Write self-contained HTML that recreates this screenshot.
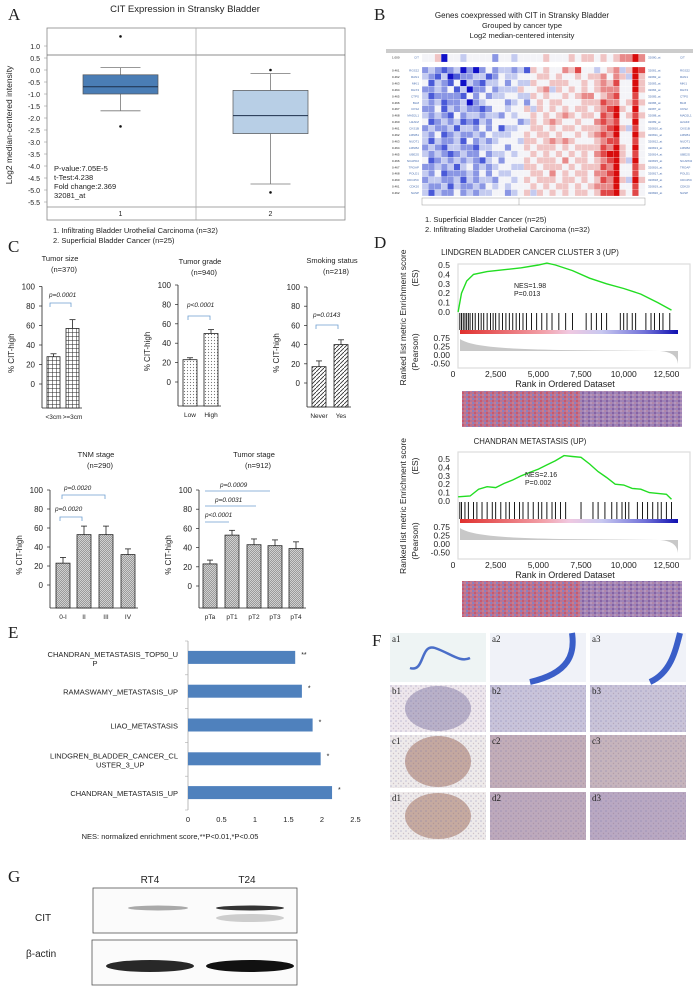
<!DOCTYPE html>
<html><head><meta charset="utf-8"><style>
html,body{margin:0;padding:0;background:#fff;}
svg{display:block;font-family:"Liberation Sans",sans-serif;}
</style></head><body>
<svg id="fig" width="696" height="988" viewBox="0 0 696 988" xmlns="http://www.w3.org/2000/svg">
<defs>
<pattern id="pGrid" width="4" height="4" patternUnits="userSpaceOnUse"><rect width="4" height="4" fill="#fff"/><path d="M0 0H4M0 0V4" stroke="#222" stroke-width="1"/></pattern>
<pattern id="pDots" width="3" height="3" patternUnits="userSpaceOnUse"><rect width="3" height="3" fill="#fff"/><circle cx="1.5" cy="1.5" r="0.6" fill="#777"/></pattern>
<pattern id="pDiag" width="4" height="4" patternUnits="userSpaceOnUse"><rect width="4" height="4" fill="#fff"/><path d="M0 4L4 0" stroke="#333" stroke-width="0.9"/></pattern>
<pattern id="pFine" width="2" height="2" patternUnits="userSpaceOnUse"><rect width="2" height="2" fill="#d8d8d8"/><path d="M0 2L2 0" stroke="#777" stroke-width="0.6"/></pattern>
<pattern id="pNoiseR" width="6" height="4" patternUnits="userSpaceOnUse"><rect width="6" height="4" fill="#b47496"/><rect x="0" y="0" width="2" height="2" fill="#c9586c"/><rect x="4" y="2" width="2" height="2" fill="#8a80c0"/><rect x="2" y="2" width="2" height="2" fill="#d07a88"/></pattern>
<pattern id="pNoiseB" width="6" height="4" patternUnits="userSpaceOnUse"><rect width="6" height="4" fill="#958ac4"/><rect x="0" y="0" width="2" height="2" fill="#6a66bc"/><rect x="4" y="2" width="2" height="2" fill="#c08aa0"/><rect x="2" y="2" width="2" height="2" fill="#aaa2d2"/></pattern>
<pattern id="pSpeck" width="5" height="5" patternUnits="userSpaceOnUse"><circle cx="1" cy="1" r="0.8" fill="#6a6aa8" fill-opacity="0.35"/><circle cx="3.5" cy="3.5" r="0.7" fill="#8a6a7a" fill-opacity="0.3"/></pattern>
<linearGradient id="gRank" x1="0" x2="1"><stop offset="0" stop-color="#e0302e"/><stop offset="0.38" stop-color="#f2a0a8"/><stop offset="0.5" stop-color="#f0c8e0"/><stop offset="0.65" stop-color="#c8c8f0"/><stop offset="0.85" stop-color="#7070d8"/><stop offset="1" stop-color="#1010b0"/></linearGradient>
</defs>
<g id="root"></g>
</svg>
<script>
// ---------- Panel A data ----------
const boxGroups = ["1","2"];
const boxQ1 = [-1.0, -2.65];
const boxQ3 = [-0.2, -0.85];
const boxMedian = [-0.7, -1.9];
const boxWhiskLo = [-1.7, -4.75];
const boxWhiskHi = [0.1, -0.15];
const boxOutHi = [1.4, 0.0];
const boxOutLo = [-2.35, -5.1];
const boxTicks = [1.0,0.5,0.0,-0.5,-1.0,-1.5,-2.0,-2.5,-3.0,-3.5,-4.0,-4.5,-5.0,-5.5];
// ---------- Panel C data ----------
const sizeCats = ["<3cm", ">=3cm"]; const sizeVals = [28, 57]; const sizeErr = [3, 9];
const gradeCats = ["Low", "High"]; const gradeVals = [23, 50]; const gradeErr = [2, 4];
const smokeCats = ["Never", "Yes"]; const smokeVals = [17, 40]; const smokeErr = [6, 5];
const tnmCats = ["0-I", "II", "III", "IV"]; const tnmVals = [23, 53, 53, 32]; const tnmErr = [6, 9, 9, 6];
const stageCats = ["pTa", "pT1", "pT2", "pT3", "pT4"]; const stageVals = [23, 53, 43, 42, 39]; const stageErr = [4, 5, 6, 6, 7];
const pctTicks = [0, 20, 40, 60, 80, 100];
// ---------- Panel E data ----------
const nesCats = [["CHANDRAN_METASTASIS_TOP50_U","P"],["RAMASWAMY_METASTASIS_UP"],["LIAO_METASTASIS"],["LINDGREN_BLADDER_CANCER_CL","USTER_3_UP"],["CHANDRAN_METASTASIS_UP"]];
const nesVals = [1.6, 1.7, 1.86, 1.98, 2.15];
const nesStars = ["**", "*", "*", "*", "*"];
const nesTicks = [0, 0.5, 1, 1.5, 2, 2.5];
// ---------- Panel D data ----------
const es1Ranks = [300,500,800,1200,2000,3000,4000,5000,5500,6000,7000,8000,9000,10000,11000,12000,12800];
const es1Vals = [0,0.2,0.33,0.4,0.43,0.45,0.47,0.5,0.52,0.5,0.44,0.36,0.3,0.25,0.19,0.1,0.02];
const es2Ranks = [300,1000,1500,2000,2500,3000,3500,4000,4500,5000,5500,6000,6500,7000,7500,8000,8500,9000,9500,10000,10500,11000,11500,12000,12500,12800];
const es2Vals = [0.05,0.06,0.14,0.17,0.16,0.21,0.25,0.3,0.34,0.38,0.43,0.48,0.54,0.53,0.52,0.44,0.35,0.28,0.2,0.19,0.15,0.14,0.1,0.09,0.08,0.02];
const hits1 = [400,500,600,700,800,900,1000,1150,1300,1500,1650,1800,2000,2200,2350,2500,2700,2900,3100,3300,3500,3700,3900,4100,4300,4600,4900,5200,5500,5800,6200,6600,7000,7800,8100,8400,8700,9000,9800,10000,10200,10500,10700,11300,11600,11800,12100,12300,12700];
const hits2 = [400,500,700,900,1200,1400,1700,2000,2300,2500,2800,3100,3300,3600,3900,4100,4400,4700,5000,5200,5500,5800,6000,6300,6600,7500,8200,8500,8900,9300,9600,9900,10100,10300,10800,11100,11400,11700,12000,12200,12500,12800];
const esTicks = [0.0,0.1,0.2,0.3,0.4,0.5];
const rankTicks = [0,2500,5000,7500,10000,12500];
const rankTickLabels = ["0","2,500","5,000","7,500","10,000","12,500"];
// ---------- Panel B data ----------
const heatGenes = ["CIT","RGS22","RAN1","MKI1","DHX3","CTPS","BLM","CKS2","MAD2L1","H2AFZ","CKS1B","LMNB1","NUDT1","LMNB2","UBE2S","NCAPD2","TROAP","POLD1","CDC25C","CDK20","NASP"];
const heatRows = [
"44504434444244344445444545545456686",
"23212302024233231545446574434563587",
"32130122331243344455454454556465385",
"41321403213342433544555445456574485",
"22324130224233354456354545456664485",
"31222214242334433545445456645674474",
"32312230234442342454554445557664575",
"22413232212443445354545455456785484",
"32321423323324344545456545547684575",
"41232312132444423545654454467674484",
"23223133242413344554545545556785374",
"32412322324333445455454454567684485",
"31322314232344435545656544456774474",
"23213322133442445455545455557685484",
"32321232242334344545454545467885474",
"41232323213424445455546455456785384",
"22323134232344335545554545557684475",
"32412223242433444554645455466784474",
"23322313233244345455545545457685385",
"32231322324343444545455454566684474",
"31322423233442345354545455457785474"];
// ---------- Panel G data ----------
const wbLanes = ["RT4","T24"];
const wbCIT = [0.35, 0.85];
const wbActin = [0.9, 1.0];

const NS="http://www.w3.org/2000/svg";
const root=document.getElementById('root');
function el(tag,attrs,parent){const e=document.createElementNS(NS,tag);for(const k in attrs)e.setAttribute(k,attrs[k]);(parent||root).appendChild(e);return e;}
function txt(x,y,s,size,anchor,parent,extra){const t=el('text',Object.assign({x:x,y:y,'font-size':size,'text-anchor':anchor||'start',fill:'#222'},extra||{}),parent);t.textContent=s;return t;}
function letter(x,y,s){const t=txt(x,y,s,17,'start',root,{'font-family':'Liberation Serif, serif'});}

// ===== Panel A =====
const gA=el('g',{});
letter(8,20,'A');
txt(185,12,'CIT Expression in Stransky Bladder',9.5,'middle',gA);
el('rect',{x:47,y:28,width:298,height:192,fill:'#fff',stroke:'#888','stroke-width':0.8},gA);
el('line',{x1:47,y1:55,x2:345,y2:55,stroke:'#666','stroke-width':0.8},gA);
el('line',{x1:47,y1:207,x2:345,y2:207,stroke:'#888','stroke-width':0.8},gA);
el('line',{x1:196,y1:28,x2:196,y2:220,stroke:'#aaa','stroke-width':0.8},gA);
const yA=v=>70-24*v;
boxTicks.forEach(v=>{txt(40,yA(v)+3,v.toFixed(1),7,'end',gA);el('line',{x1:44,y1:yA(v),x2:47,y2:yA(v),stroke:'#888','stroke-width':0.5},gA);});
const ya=txt(12,125,'Log2 median-centered intensity',8.5,'middle',gA,{transform:'rotate(-90 12 125)'});

const boxX=[83,233],boxW=75,boxFill=['#4a7db5','#b8cfe6'];
boxGroups.forEach((g,i)=>{
  const cx=boxX[i]+boxW/2;
  el('line',{x1:cx,y1:yA(boxWhiskHi[i]),x2:cx,y2:yA(boxWhiskLo[i]),stroke:'#777','stroke-width':0.8},gA);
  el('line',{x1:cx-20,y1:yA(boxWhiskHi[i]),x2:cx+20,y2:yA(boxWhiskHi[i]),stroke:'#777','stroke-width':0.8},gA);
  el('line',{x1:cx-20,y1:yA(boxWhiskLo[i]),x2:cx+20,y2:yA(boxWhiskLo[i]),stroke:'#777','stroke-width':0.8},gA);
  const b=el('rect',{x:boxX[i],y:yA(boxQ3[i]),width:boxW,height:yA(boxQ1[i])-yA(boxQ3[i]),fill:boxFill[i],stroke:'#555','stroke-width':0.7},gA);
  
  el('line',{x1:boxX[i],y1:yA(boxMedian[i]),x2:boxX[i]+boxW,y2:yA(boxMedian[i]),stroke:'#1d2f4a','stroke-width':1},gA);
  el('circle',{cx:cx,cy:yA(boxOutHi[i]),r:1.3,fill:'#111'},gA);
  el('circle',{cx:cx,cy:yA(boxOutLo[i]),r:1.3,fill:'#111'},gA);
  txt(cx,216,g,7,'middle',gA);
});
['P-value:7.05E-5','t-Test:4.238','Fold change:2.369','32081_at'].forEach((s,i)=>txt(54,171+i*9,s,7.5,'start',gA));
txt(53,233,'1. Infiltrating Bladder Urothelial Carcinoma (n=32)',7.5,'start',gA);
txt(53,243,'2. Superficial Bladder Cancer (n=25)',7.5,'start',gA);

// ===== Panel C =====
letter(8,252,'C');
function barChart(name,cats,vals,errs,cfg){
  const g=el('g',{});
  const y=v=>cfg.y0-v*cfg.k;
  txt(cfg.tx,cfg.ty,cfg.title,7.5,'middle',g);txt(cfg.tx+4,cfg.ty+11,cfg.n,7.5,'middle',g);
  el('line',{x1:cfg.ax,y1:y(100),x2:cfg.ax,y2:cfg.base,stroke:'#222','stroke-width':0.8},g);
  const lastX=cfg.bx[cfg.bx.length-1]+cfg.w+3;
  el('line',{x1:cfg.ax,y1:cfg.base,x2:lastX,y2:cfg.base,stroke:'#222','stroke-width':0.8},g);
  pctTicks.forEach(t=>{el('line',{x1:cfg.ax-3,y1:y(t),x2:cfg.ax,y2:y(t),stroke:'#222','stroke-width':0.7},g);txt(cfg.ax-7,y(t)+3,String(t),8,'end',g);});
  txt(cfg.ax-28,(y(100)+cfg.base)/2+6,'% CIT-high',8,'middle',g,{transform:`rotate(-90 ${cfg.ax-28} ${(y(100)+cfg.base)/2+6})`});
  cats.forEach((c,i)=>{
    const x=cfg.bx[i];
    const r=el('rect',{x:x,y:y(vals[i]),width:cfg.w,height:cfg.base-y(vals[i]),fill:cfg.fill,stroke:'#222','stroke-width':0.8},g);
    
    const cx=x+cfg.w/2;
    el('line',{x1:cx,y1:y(vals[i]),x2:cx,y2:y(vals[i]+errs[i]),stroke:'#222','stroke-width':0.8},g);
    el('line',{x1:cx-3,y1:y(vals[i]+errs[i]),x2:cx+3,y2:y(vals[i]+errs[i]),stroke:'#222','stroke-width':0.8},g);
    txt(cx,cfg.base+11,c,6.5,'middle',g);
  });
  (cfg.br||[]).forEach(b=>{
    if(b.hook){el('path',{d:`M${b.x1} ${b.y+4}V${b.y}H${b.x2}V${b.y+4}`,fill:'none',stroke:'#6d9ecf','stroke-width':0.8},g);}
    else el('line',{x1:b.x1,y1:b.y,x2:b.x2,y2:b.y,stroke:'#6d9ecf','stroke-width':0.8},g);
    txt(b.lx,b.ly,b.t,6.5,'start',g,{'font-style':'italic'});
  });
}
barChart('chart-tumor-size',sizeCats,sizeVals,sizeErr,{y0:384,k:0.975,base:408,ax:42,bx:[47,66],w:13,fill:'url(#pGrid)',title:'Tumor size',n:'(n=370)',tx:60,ty:261,br:[{hook:1,x1:50,x2:71,y:303,t:'p=0.0001',lx:49,ly:297}]});
barChart('chart-tumor-grade',gradeCats,gradeVals,gradeErr,{y0:382,k:0.97,base:406,ax:178,bx:[183,204],w:14,fill:'url(#pDots)',title:'Tumor grade',n:'(n=940)',tx:200,ty:264,br:[{hook:1,x1:188,x2:210,y:316,t:'p<0.0001',lx:187,ly:307}]});
barChart('chart-smoking-status',smokeCats,smokeVals,smokeErr,{y0:383,k:0.96,base:407,ax:307,bx:[312,334],w:14,fill:'url(#pDiag)',title:'Smoking status',n:'(n=218)',tx:332,ty:263,br:[{hook:1,x1:316,x2:338,y:325,t:'p=0.0143',lx:313,ly:317}]});
barChart('chart-tnm-stage',tnmCats,tnmVals,tnmErr,{y0:585,k:0.95,base:608,ax:50,bx:[56,77,99,121],w:14,fill:'url(#pFine)',title:'TNM stage',n:'(n=290)',tx:96,ty:457,br:[{hook:1,x1:62,x2:105,y:495,t:'p=0.0020',lx:64,ly:490},{hook:1,x1:60,x2:82,y:517,t:'p=0.0020',lx:55,ly:511}]});
barChart('chart-tumor-stage',stageCats,stageVals,stageErr,{y0:586,k:0.96,base:608,ax:199,bx:[203,225,247,268,289],w:14,fill:'url(#pFine)',title:'Tumor stage',n:'(n=912)',tx:254,ty:457,br:[{x1:205,x2:270,y:491,t:'p=0.0009',lx:220,ly:487},{x1:205,x2:256,y:506,t:'p=0.0031',lx:215,ly:502},{x1:205,x2:229,y:522,t:'p<0.0001',lx:205,ly:517}]});

// ===== Panel E =====
letter(8,638,'E');
const gE=el('g',{});
const xE=v=>188+v*67;const bandE=33.8,topE=641;
el('line',{x1:188,y1:topE,x2:188,y2:topE+5*bandE,stroke:'#aaa','stroke-width':0.8},gE);
for(let i=0;i<=5;i++)el('line',{x1:185,y1:topE+i*bandE,x2:188,y2:topE+i*bandE,stroke:'#aaa','stroke-width':0.6},gE);
nesTicks.forEach(t=>txt(xE(t),822,String(t),7.5,'middle',gE));
nesCats.forEach((c,i)=>{
  const cy=topE+i*bandE+bandE/2;
  const r=el('rect',{x:188,y:cy-7,width:xE(nesVals[i])-188,height:13,fill:'#4f81bd'},gE);
  
  txt(xE(nesVals[i])+6,cy-1,nesStars[i],7,'start',gE);
  if(c.length===1)txt(178,cy+3,c[0],7.5,'end',gE);
  else{txt(178,cy-1,c[0],7.5,'end',gE);txt(c[1].length<3?95:96,cy+8,c[1],7.5,c[1].length<3?'middle':'start',gE);}
});
txt(170,839,'NES: normalized enrichment score,**P<0.01,*P<0.05',7.5,'middle',gE);

// ===== Panel G =====
letter(8,882,'G');
const gG=el('g',{});
txt(150,883,'RT4',10,'middle',gG);txt(247,883,'T24',10,'middle',gG);
txt(35,921,'CIT',10,'start',gG);txt(26,957,'β-actin',10,'start',gG);
el('rect',{x:93,y:888,width:204,height:45,fill:'#fbfbfb',stroke:'#555','stroke-width':0.8},gG);
el('rect',{x:92,y:940,width:205,height:45,fill:'#fbfbfb',stroke:'#555','stroke-width':0.8},gG);
const laneX=[150,250];
wbLanes.forEach((l,i)=>{
  el('ellipse',{cx:laneX[i]+(i?0:8),cy:908,rx:i?34:30,ry:2.5,fill:'#111','fill-opacity':wbCIT[i]},gG);
  if(i)el('ellipse',{cx:laneX[i],cy:918,rx:34,ry:4,fill:'#777','fill-opacity':0.35},gG);
  el('ellipse',{cx:laneX[i],cy:966,rx:44,ry:6,fill:'#111','fill-opacity':wbActin[i]},gG);
});

// ===== Panel B =====
letter(374,20,'B');
const gB=el('g',{});
txt(522,18,'Genes coexpressed with CIT in Stransky Bladder',8,'middle',gB);
txt(522,28,'Grouped by cancer type',7.5,'middle',gB);
txt(522,38,'Log2 median-centered intensity',7.5,'middle',gB);
el('rect',{x:386,y:49,width:307,height:4,fill:'#ccc'},gB);
const hx0=422,hx1=645,ncol=35,cw=(hx1-hx0)/ncol;
const lvl=['#1010c8','#4a5ad8','#8a96e4','#c4cbf0','#f4f4f8','#f0c4c4','#e88a8a','#e04848','#d80c0c'];
heatRows.forEach((row,r)=>{
  const y=r===0?54:67+(r-1)*6.45,h=r===0?8:6.45;
  for(let c=0;c<ncol;c++){const v=+row[c];el('rect',{x:hx0+c*cw,y:y,width:cw+0.2,height:h,fill:lvl[v],stroke:'#fff','stroke-width':0.2},gB);}
  txt(419,y+4.5,heatGenes[r],3,'end',gB,{fill:'#4a6fb0'});
  txt(392,y+4.5,r===0?'1.000':'0.46'+(r%9),3,'start',gB);
  txt(648,y+4.5,'3208'+r+'_at',3,'start',gB,{fill:'#4a6fb0'});
  txt(680,y+4.5,heatGenes[r],3,'start',gB,{fill:'#4a6fb0'});
});
el('rect',{x:422,y:198,width:223,height:7,fill:'#fff',stroke:'#999','stroke-width':0.5},gB);
el('line',{x1:519,y1:198,x2:519,y2:205,stroke:'#999','stroke-width':0.5},gB);
txt(425,222,'1. Superficial Bladder Cancer (n=25)',7.5,'start',gB);
txt(425,232,'2. Infiltrating Bladder Urothelial Carcinoma (n=32)',7.5,'start',gB);

// ===== Panel D =====
letter(374,248,'D');
const xR=r=>453+r*0.01707;
function gsea(name,title,tY,box,ranks,vals,hits,heatY,heatFill){
  const g=el('g',{});
  txt(530,tY,title,7.8,'middle',g);
  const yE=v=>box.y0-v*box.k;
  el('rect',{x:458,y:box.top,width:232,height:box.bot-box.top,fill:'#fff',stroke:'#ddd','stroke-width':1.2},g);
  esTicks.forEach(t=>txt(450,yE(t)+3,t.toFixed(1),8.5,'end',g));
  const pts=ranks.map((r,i)=>`${xR(r).toFixed(1)},${yE(vals[i]).toFixed(1)}`).join(' ');
  const pl=el('polyline',{points:pts,fill:'none',stroke:'#22dd22','stroke-width':1.4},g);
  
  const hy=box.y0+1;
  hits.forEach(r=>el('line',{x1:xR(r),y1:hy,x2:xR(r),y2:hy+17,stroke:'#000','stroke-width':0.9},g));
  el('rect',{x:460,y:hy+17,width:218,height:4,fill:'url(#gRank)'},g);
  const my=hy+23;
  el('path',{d:`M460 ${my+3} C470 ${my+10},500 ${my+13},560 ${my+14} L660 ${my+15} C672 ${my+16},677 ${my+20},678 ${my+28} L678 ${my+15} L460 ${my+15} Z`,fill:'#c8c8c8'},g);
  ['0.75','0.25','0.00','-0.50'].forEach((s,i)=>txt(450,my+5+i*8.5,s,8.5,'end',g));
  txt(418,box.top+14,'(ES)',8.5,'middle',g,{transform:`rotate(-90 418 ${box.top+14})`});
  txt(418,my+16,'(Pearson)',8.5,'middle',g,{transform:`rotate(-90 418 ${my+16})`});
  txt(406,(box.top+my+35)/2,'Ranked list metric Enrichment score',8.5,'middle',g,{transform:`rotate(-90 406 ${(box.top+my+35)/2})`});
  rankTicks.forEach((t,i)=>txt(xR(t),box.bot+9,rankTickLabels[i],8.5,'middle',g));
  txt(565,box.bot+19,'Rank in Ordered Dataset',9,'middle',g);
  el('rect',{x:462,y:heatY,width:220,height:36,fill:heatFill},g);
  el('rect',{x:580,y:heatY,width:102,height:36,fill:'url(#pNoiseB)','fill-opacity':0.7},g);
}
gsea('panel-d-gsea-lindgren','LINDGREN BLADDER CANCER CLUSTER 3  (UP)',255,{top:264,bot:368,y0:312,k:94},es1Ranks,es1Vals,hits1,391,'url(#pNoiseR)');
txt(514,288,'NES=1.98',7,'start');txt(514,296,'P=0.013',7,'start');
gsea('panel-d-gsea-chandran','CHANDRAN METASTASIS (UP)',444,{top:452,bot:559,y0:501,k:84},es2Ranks,es2Vals,hits2,581,'url(#pNoiseR)');
txt(525,477,'NES=2.16',7,'start');txt(525,485,'P=0.002',7,'start');

// ===== Panel F =====
letter(372,646,'F');
const gF=el('g',{});
const fCols=[390,490,590],fRows=[[633,682],[685,732],[735,788],[792,840]];
const fBg=[['#eef4f4','#f0f2f8','#f0f2f8'],['#ede6ec','#c8c3da','#c9c3d8'],['#eeeaea','#c2adb8','#c6b4bc'],['#eeeaea','#bda9bc','#b9a8c2']];
const fLabels=['a','b','c','d'];
fRows.forEach((rw,r)=>fCols.forEach((x,c)=>{
  const h=rw[1]-rw[0];
  const im=el('rect',{x:x,y:rw[0],width:96,height:h,fill:fBg[r][c]},gF);
  
  if(c===0&&r>0)el('ellipse',{cx:x+48,cy:rw[0]+h/2,rx:33,ry:h/2-1,fill:['','#b8b0c8','#c4a8a0','#c6aaa0'][r]},gF);
  if(r>0)el('rect',{x:x,y:rw[0],width:96,height:h,fill:'url(#pSpeck)'},gF);
  if(r===0&&c===0)el('path',{d:`M${x+20} ${rw[0]+35} C${x+35} ${rw[0]+40},${x+30} ${rw[0]+10},${x+45} ${rw[0]+15} S${x+70} ${rw[0]+30},${x+80} ${rw[0]+25}`,fill:'none',stroke:'#4a6ec8','stroke-width':2.5},gF);
  if(r===0&&c>0)el('path',{d:`M${x+(c===1?40:60)} ${rw[0]+h} C${x+80} ${rw[0]+40},${x+85} ${rw[0]+20},${x+(c===1?82:90)} ${rw[0]}`,fill:'none',stroke:'#3a5ec8','stroke-width':6},gF);
  txt(x+2,rw[0]+9,fLabels[r]+(c+1),9,'start',gF,{'font-family':'Liberation Serif, serif'});
}));
</script>
</body></html>
